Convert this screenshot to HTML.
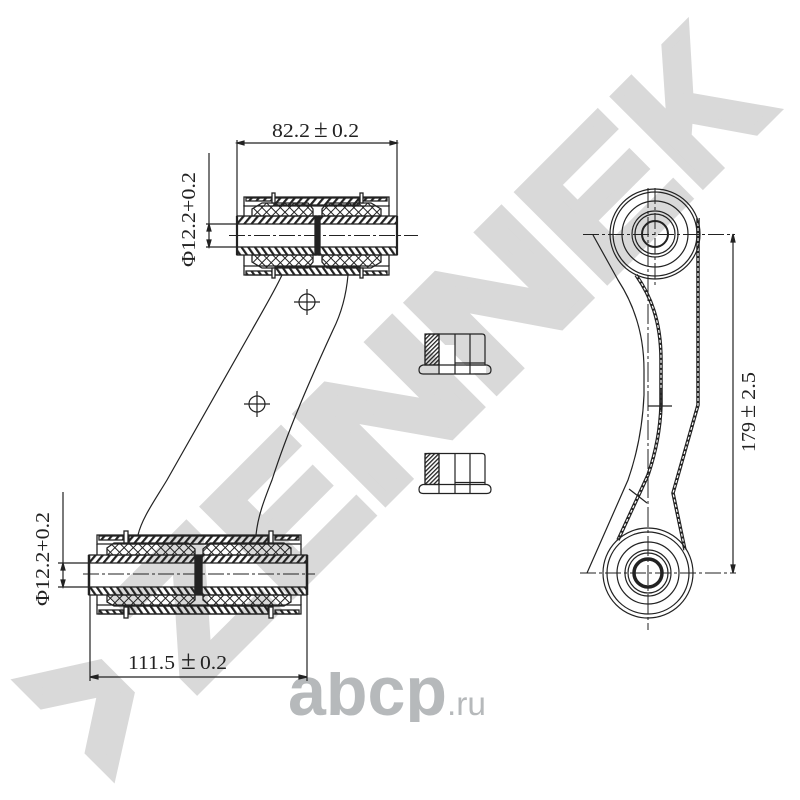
<!DOCTYPE html>
<html><head><meta charset="utf-8"><style>html,body{margin:0;padding:0;background:#fff}svg{display:block}</style></head>
<body>
<svg xmlns="http://www.w3.org/2000/svg" width="800" height="800" viewBox="0 0 800 800">
<defs>
<pattern id="h" width="5.5" height="5.5" patternUnits="userSpaceOnUse" patternTransform="rotate(40)"><rect width="2.2" height="5.5" fill="#222"/></pattern>
<pattern id="h2" width="5.5" height="5.5" patternUnits="userSpaceOnUse" patternTransform="rotate(-35)"><rect width="2.2" height="5.5" fill="#222"/></pattern>
<pattern id="x" width="6.500" height="6.500" patternUnits="userSpaceOnUse" patternTransform="rotate(45)"><path d="M0 0H6.500M0 0V6.500" stroke="#222" stroke-width="2"/></pattern>
<pattern id="n" width="3" height="3" patternUnits="userSpaceOnUse" patternTransform="rotate(45)"><rect width="1.3" height="3" fill="#222"/></pattern>
<clipPath id="abcpclip"><rect x="280" y="672" width="175" height="50"/></clipPath>
</defs>
<rect width="800" height="800" fill="#fff"/>

<g transform="translate(446.5 446.5) rotate(-45)" font-family="Liberation Sans" font-weight="700" font-size="178" fill="#d9d9d9" stroke="#d9d9d9" stroke-width="10" stroke-linejoin="miter">
<text transform="translate(-474 6) scale(.6 1)" font-size="230" stroke-width="16">&gt;</text>
<text transform="translate(-353 -5) scale(1.12 1)">Z</text>
<text transform="translate(-225 -5) scale(1.09 1)">E</text>
<text transform="translate(-95 -5) scale(1.24 1)">N</text>
<text transform="translate(62.500 -5) scale(1.215 1)">N</text>
<text transform="translate(219.600 -5) scale(1.12 1)">E</text>
<text transform="translate(356.500 -5) scale(.88 1)">K</text>
</g>

<text x="288" y="715" font-family="Liberation Sans" font-weight="700" font-size="70" textLength="159" lengthAdjust="spacingAndGlyphs" fill="#b6b9bb" clip-path="url(#abcpclip)">abcp</text>
<text x="447" y="715" font-family="Liberation Sans" font-size="33" textLength="39" lengthAdjust="spacingAndGlyphs" fill="#b6b9bb">.ru</text>

<g fill="none" stroke="#222" stroke-width="1.2">
<!-- link plate -->
<path d="M282 275C274 292 262 312 252 330L167 480C155 500 142 518 138 535"/>
<path d="M348 275C346 298 340 316 333 330C310 380 288 430 272 480C265 498 258 515 256 535"/>
<circle cx="307" cy="302" r="8"/><path d="M294 302H320M307 289V315"/>
<circle cx="257" cy="404" r="8"/><path d="M244 404H270M257 391V417"/>

<!-- top bushing -->
<g stroke-width="1.3">
<path d="M244 197H389V206H244Z"/>
<rect x="274" y="198" width="85" height="7" fill="url(#h)"/>
<rect x="246" y="198" width="26" height="3" fill="url(#h)"/><rect x="361" y="198" width="26" height="3" fill="url(#h)"/>
<path d="M244 266H389V275H244Z"/>
<rect x="275" y="267" width="85" height="8" fill="url(#h2)"/>
<rect x="246" y="271" width="26" height="4" fill="url(#h2)"/><rect x="361" y="271" width="26" height="4" fill="url(#h2)"/>
<path d="M252 216V209L262 203H308L313 209V216ZM381 216V209L371 203H327L322 209V216Z" fill="url(#x)"/>
<path d="M252 255V262L262 268H308L313 262V255ZM381 255V262L371 268H327L322 262V255Z" fill="url(#x)"/>
<rect x="237" y="216" width="79" height="8" fill="url(#h)"/><rect x="319" y="216" width="78" height="8" fill="url(#h)"/>
<rect x="237" y="247" width="79" height="8" fill="url(#h2)"/><rect x="319" y="247" width="78" height="8" fill="url(#h2)"/>
<rect x="315" y="216" width="5" height="39" fill="#222"/>
<path d="M237 216V255M397 216V255" stroke-width="2.200"/>
<rect x="272" y="193" width="3" height="10" fill="#fff"/><rect x="360" y="193" width="3" height="10" fill="#fff"/>
<rect x="272" y="268" width="3" height="10" fill="#fff"/><rect x="360" y="268" width="3" height="10" fill="#fff"/>
<path d="M244 205V216M389 205V216M244 255V266M389 255V266"/>
</g>
<path d="M229 235.500H418" stroke-dasharray="16 3 3 3" stroke-width="1"/>

<!-- top dims -->
<path d="M237 140V216M397 140V216M237 143H397M209 153V247M206 224H237M206 247H237"/>
<path d="M237 143l7-2v4zM397 143l-7-2v4zM209 224l-2 7h4zM209 247l-2-7h4z" fill="#222"/>

<!-- bottom bushing -->
<g stroke-width="1.3">
<path d="M97 535H301V544H97Z"/>
<rect x="129" y="536" width="139" height="8" fill="url(#h)"/>
<rect x="99" y="536" width="24" height="4" fill="url(#h)"/><rect x="275" y="536" width="24" height="4" fill="url(#h)"/>
<path d="M97 605H301V614H97Z"/>
<rect x="129" y="606" width="139" height="8" fill="url(#h2)"/>
<rect x="99" y="610" width="24" height="4" fill="url(#h2)"/><rect x="275" y="610" width="24" height="4" fill="url(#h2)"/>
<path d="M107 555V548L114 543H188L195 549V555ZM291 555V548L284 543H210L203 549V555Z" fill="url(#x)"/>
<path d="M107 595V602L114 606H188L195 600V595ZM291 595V602L284 606H210L203 600V595Z" fill="url(#x)"/>
<rect x="89" y="555" width="106" height="8" fill="url(#h)"/><rect x="202" y="555" width="105" height="8" fill="url(#h)"/>
<rect x="89" y="587" width="106" height="8" fill="url(#h2)"/><rect x="202" y="587" width="105" height="8" fill="url(#h2)"/>
<rect x="195" y="555" width="7" height="40" fill="#222"/>
<path d="M89 555V595M307 555V595" stroke-width="2.500"/>
<rect x="124" y="531" width="4" height="12" fill="#fff"/><rect x="269" y="531" width="4" height="12" fill="#fff"/>
<rect x="124" y="607" width="4" height="11" fill="#fff"/><rect x="269" y="607" width="4" height="11" fill="#fff"/>
<path d="M97 544V555M301 544V555M97 595V605M301 595V605"/>
</g>
<path d="M83 574H315" stroke-dasharray="16 3 3 3" stroke-width="1"/>

<!-- bottom dims -->
<path d="M63 492V587M58 563H89M58 587H89M90 595V681M307 595V681M90 677H307"/>
<path d="M90 677l8-2v4zM307 677l-8-2v4zM63 563l-2 7h4zM63 587l-2-7h4z" fill="#222"/>

<!-- nuts -->
<g>
<rect x="440" y="345" width="15" height="29" fill="#fff" stroke="none"/>
<rect x="456" y="366" width="30" height="7" fill="#fff" stroke="none"/>
<rect x="425" y="334" width="14" height="31" fill="url(#n)"/>
<path d="M425 365V337Q425 334 428 334H482Q485 334 485 337V365"/>
<path d="M425 365H423Q419 366 419 370Q419 374 423 374H487Q491 374 491 370Q491 366 487 365Z"/>
<path d="M439 334V374M455 334V374M470 334V374M455 363H485"/>
</g>
<g transform="translate(0 119.500)">
<rect x="425" y="334" width="14" height="31" fill="url(#n)"/>
<path d="M425 365V337Q425 334 428 334H482Q485 334 485 337V365"/>
<path d="M425 365H423Q419 366 419 370Q419 374 423 374H487Q491 374 491 370Q491 366 487 365Z"/>
<path d="M439 334V374M455 334V374M470 334V374M455 363H485"/>
</g>

<!-- side view -->
<path d="M593 235L618 280Q644 320 644 370L644 395Q642 440 628 480L587 573"/>
<path d="M636 275C650 295 661 320 661 360L661 405Q660 440 648 475L618 540" stroke-width="3.500"/>
<path d="M636 275C650 295 661 320 661 360L661 405Q660 440 648 475L618 540" stroke="#fff" stroke-width="1.200" stroke-dasharray="3 2"/>
<path d="M698 218V405L673 493L685 550" stroke-width="3.500"/>
<path d="M698 218V405L673 493L685 550" stroke="#fff" stroke-width="1.200" stroke-dasharray="3 2"/>
<path d="M629 489L647 503M648 406H672M661 390V412"/>
<circle cx="655" cy="234" r="45"/><circle cx="655" cy="234" r="42"/><circle cx="655" cy="234" r="33"/><circle cx="655" cy="234" r="23"/><circle cx="655" cy="234" r="20"/><circle cx="655" cy="234" r="13" stroke-width="2"/>
<circle cx="648" cy="573" r="45"/><circle cx="648" cy="573" r="41"/><circle cx="648" cy="573" r="31"/><circle cx="648" cy="573" r="23"/><circle cx="648" cy="573" r="20"/><circle cx="648" cy="573" r="14" stroke-width="3.500"/>
<path d="M583 234.500H735M580 573H736M655 188V288" stroke-dasharray="16 3 3 3" stroke-width="1"/>
<path d="M648 188V630" stroke-dasharray="20 3 3 3" stroke-width="1"/>
<path d="M733 234V573"/>
<path d="M733 234l-2 8h4zM733 573l-2-8h4z" fill="#222"/>
</g>

<g font-family="Liberation Serif" font-size="20" fill="#222">
<text x="272" y="137" textLength="38" lengthAdjust="spacingAndGlyphs">82.2</text>
<text x="314" y="137" font-size="25">±</text>
<text x="332" y="137" textLength="27" lengthAdjust="spacingAndGlyphs">0.2</text>
<text x="128" y="669" textLength="47" lengthAdjust="spacingAndGlyphs">111.5</text>
<text x="181" y="669" font-size="27">±</text>
<text x="200" y="669" textLength="27" lengthAdjust="spacingAndGlyphs">0.2</text>
<text transform="translate(195 267) rotate(-90)" textLength="95" lengthAdjust="spacingAndGlyphs">Φ12.2+0.2</text>
<text transform="translate(49 606) rotate(-90)" textLength="94" lengthAdjust="spacingAndGlyphs">Φ12.2+0.2</text>
<text transform="translate(755 452) rotate(-90)" textLength="30" lengthAdjust="spacingAndGlyphs">179</text>
<text transform="translate(755 418) rotate(-90)" font-size="24">±</text>
<text transform="translate(755 400) rotate(-90)" textLength="28" lengthAdjust="spacingAndGlyphs">2.5</text>
</g>
</svg>
</body></html>
